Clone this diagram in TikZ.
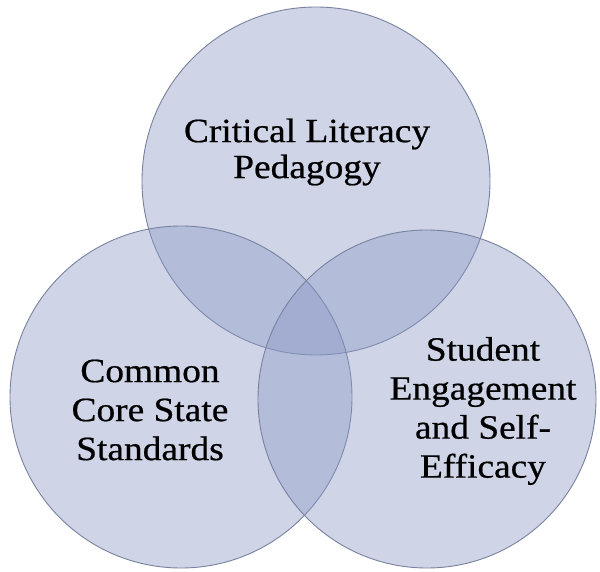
\documentclass[tikz,border=0pt]{standalone}
\usepackage{fontspec}
\setmainfont[FakeStretch=1.1,FakeBold=0.6]{Liberation Serif}
\begin{document}
\begin{tikzpicture}[x=1pt,y=1pt,
  venn/.style={fill={rgb,255:red,137;green,152;blue,197},fill opacity=0.4,draw={rgb,255:red,120;green,130;blue,158},line width=0.9pt},
  lbl/.style={align=center,inner sep=0pt,text=black}]
\useasboundingbox (0,0) rectangle (600,571);
\fill[white] (0,0) rectangle (600,571);
\path[venn] (316,390) circle (174);
\path[venn] (181,174) circle (171);
\path[venn] (427,172) circle (169);
\node[lbl,font=\fontsize{34}{36}\selectfont] (top) at (307,419) {Critical Literacy\\Pedagogy};
\node[lbl,font=\fontsize{34}{39}\selectfont] (left) at (150,161) {Common\\Core State\\Standards};
\node[lbl,font=\fontsize{34}{39}\selectfont] (right) at (483,160) {Student\\Engagement\\and Self-\\Efficacy};
\end{tikzpicture}
\end{document}
